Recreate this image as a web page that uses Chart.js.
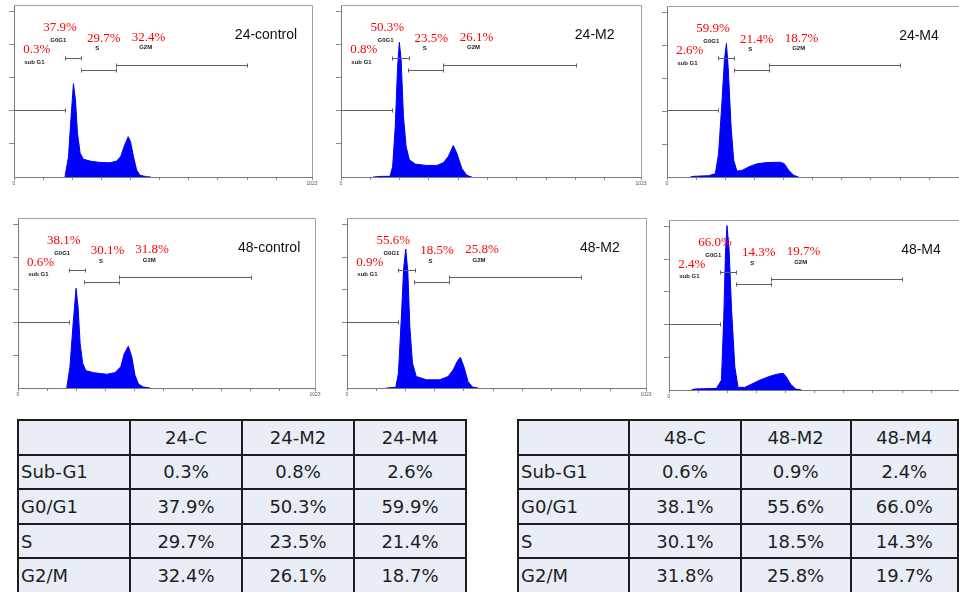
<!DOCTYPE html>
<html>
<head>
<meta charset="utf-8">
<script src="https://cdn.jsdelivr.net/npm/chart.js@4.4.1/dist/chart.umd.min.js"></script>
<style>
  html, body { margin: 0; padding: 0; background: #fff; }
  body { width: 959px; height: 592px; overflow: hidden; position: relative; }
  canvas { position: absolute; }
  table.cc { position: absolute; border-collapse: collapse; table-layout: fixed;
    font-family: "DejaVu Sans", sans-serif; font-size: 18px; color: #1e1e1e; }
  table.cc td { border: 2px solid #1c1c1c; background: #e9edf5; padding: 0; height: 32.6px;
    text-align: center; white-space: nowrap; overflow: hidden; }
  table.cc td.rh { text-align: left; padding-left: 2px; }
</style>
</head>
<body>
<script>
// table data
const phases = ['Sub-G1', 'G0/G1', 'S', 'G2/M'];
const samples24 = ['24-C', '24-M2', '24-M4'];
const samples48 = ['48-C', '48-M2', '48-M4'];
const pct24C = [0.3, 37.9, 29.7, 32.4];
const pct24M2 = [0.8, 50.3, 23.5, 26.1];
const pct24M4 = [2.6, 59.9, 21.4, 18.7];
const pct48C = [0.6, 38.1, 30.1, 31.8];
const pct48M2 = [0.9, 55.6, 18.5, 25.8];
const pct48M4 = [2.4, 66.0, 14.3, 19.7];

const panelTitles = ['24-control', '24-M2', '24-M4', '48-control', '48-M2', '48-M4'];

// histogram outlines: [channel, count]
const hist24C = [[175,0],[187,61],[196,183],[204,282],[211,233],[218,132],[227,72],[238,54],[261,48],[295,44],[330,43],[352,48],[366,61],[378,92],[392,122],[400,107],[410,62],[421,21],[433,5],[455,1],[470,0]];
const hist24M2 = [[110,0],[139,2],[167,2],[176,31],[185,152],[193,334],[199,407],[205,355],[213,183],[222,92],[233,52],[253,39],[292,35],[327,35],[349,43],[366,62],[383,95],[395,72],[412,26],[429,5],[446,0]];
const hist24M4 = [[80,0],[91,2],[143,4],[166,10],[177,71],[189,232],[197,354],[204,406],[210,333],[220,152],[229,51],[240,18],[257,20],[286,33],[309,40],[343,44],[389,45],[403,40],[418,20],[435,5],[452,0]];
const hist48C = [[168,0],[179,65],[189,186],[200,305],[207,246],[214,135],[223,75],[234,53],[260,47],[306,42],[334,47],[354,65],[366,105],[380,128],[392,95],[403,39],[415,12],[432,3],[455,0]];
const hist48M2 = [[135,0],[150,1],[167,2],[176,45],[186,217],[194,368],[201,425],[208,358],[215,187],[224,76],[237,35],[272,25],[317,25],[346,35],[363,55],[377,81],[388,94],[400,65],[414,20],[429,3],[448,0]];
const hist48M4 = [[77,0],[88,3],[163,5],[180,30],[188,222],[194,424],[199,503],[206,434],[215,242],[226,71],[237,8],[260,8],[288,20],[311,30],[340,40],[369,48],[392,51],[403,40],[417,18],[435,3],[455,0]];

// gates (channel range, drawn at a count level)
const gateNames = ['sub G1', 'G0G1', 'S', 'G2M'];
const gateFrom = [0, 175, 229, 349];
const gateTo = [174, 231, 349, 801];
const gateAt = [203, 361, 325, 340];

const xTicks = [0, 100, 200, 300, 400, 500, 600, 700, 800, 900, 1023];
const yTicks = [100, 200, 300, 400, 500];

// label anchors in data units [channel, count]
const pctAnchor = [[78, 385], [158, 452], [308, 419], [462, 422]];
const tagAnchor = [[70, 347], [152, 413], [286, 388], [452, 392]];
const titleAnchor = [865, 428];

// plot areas on the page
const boxes = [
  { l: 14, t: 5, r: 312, b: 177 },
  { l: 341, t: 5, r: 641, b: 177 },
  { l: 667, t: 6, r: 965, b: 177 },
  { l: 18, t: 218, r: 315, b: 388 },
  { l: 347, t: 218, r: 646, b: 388 },
  { l: 669, t: 220, r: 967, b: 390 }
];
const AXW = 10, AXH = 14, PADT = 2, PADR = 9;

const overlay = {
  id: 'overlay',
  afterDatasetsDraw(chart, args, opts) {
    const { ctx, chartArea: a, scales: { x, y } } = chart;
    ctx.save();
    ctx.strokeStyle = '#a0a0a0';
    ctx.lineWidth = 1;
    ctx.beginPath();
    ctx.moveTo(a.left, a.top + 0.5);
    ctx.lineTo(a.right + 0.5, a.top + 0.5);
    ctx.lineTo(a.right + 0.5, a.bottom);
    ctx.stroke();

    ctx.strokeStyle = '#5f5f5f';
    gateFrom.forEach((g, i) => {
      const x0 = Math.round(x.getPixelForValue(g)) + 0.5;
      const x1 = Math.round(x.getPixelForValue(gateTo[i])) + 0.5;
      const yy = Math.round(y.getPixelForValue(gateAt[i])) + 0.5;
      ctx.beginPath();
      ctx.moveTo(x0, yy); ctx.lineTo(x1, yy);
      if (g > 0) { ctx.moveTo(x0, yy - 2); ctx.lineTo(x0, yy + 2); }
      ctx.moveTo(x1, yy - 2); ctx.lineTo(x1, yy + 2);
      ctx.stroke();
    });

    ctx.textAlign = 'center';
    ctx.textBaseline = 'middle';
    ctx.fillStyle = '#ff0000';
    ctx.font = '13px "Liberation Serif"';
    opts.pct.forEach((v, i) => {
      ctx.fillText(v.toFixed(1) + '%', x.getPixelForValue(pctAnchor[i][0]), y.getPixelForValue(pctAnchor[i][1]));
    });
    ctx.fillStyle = '#1a1a1a';
    ctx.font = 'bold 6px "Liberation Sans"';
    gateNames.forEach((n, i) => {
      ctx.fillText(n, x.getPixelForValue(tagAnchor[i][0]), y.getPixelForValue(tagAnchor[i][1]));
    });
    ctx.fillStyle = '#111';
    ctx.font = '14px "Liberation Sans"';
    ctx.fillText(opts.title, x.getPixelForValue(titleAnchor[0]), y.getPixelForValue(titleAnchor[1]));
    ctx.restore();
  }
};

function drawPanel(i, hist, pct) {
  const b = boxes[i];
  const cv = document.createElement('canvas');
  cv.width = b.r - b.l + AXW + PADR;
  cv.height = b.b - b.t + PADT + AXH;
  cv.style.left = (b.l - AXW) + 'px';
  cv.style.top = (b.t - PADT) + 'px';
  document.body.appendChild(cv);

  new Chart(cv, {
    type: 'line',
    data: {
      datasets: [{
        data: hist.map(p => ({ x: p[0], y: p[1] })),
        borderColor: '#0000f0',
        backgroundColor: '#0000ff',
        borderWidth: 1,
        pointRadius: 0,
        tension: 0,
        fill: 'origin'
      }]
    },
    options: {
      responsive: false,
      animation: false,
      devicePixelRatio: 1,
      layout: { padding: { left: 0, right: PADR, top: PADT, bottom: 0 } },
      plugins: {
        legend: { display: false },
        tooltip: { enabled: false },
        overlay: { title: panelTitles[i], pct: pct }
      },
      scales: {
        x: {
          type: 'linear', min: 0, max: 1023,
          afterBuildTicks: s => { s.ticks = xTicks.map(v => ({ value: v })); },
          afterFit: s => { s.height = AXH; },
          grid: { drawOnChartArea: false, tickLength: 3, color: '#8a8a8a' },
          border: { color: '#7a7a7a' },
          ticks: {
            autoSkip: false, maxRotation: 0, padding: 1, color: '#555',
            font: { size: 5, family: 'Liberation Sans' },
            callback: v => (v === 0 || v === 1023) ? String(v) : ''
          }
        },
        y: {
          min: 0, max: 520,
          afterBuildTicks: s => { s.ticks = yTicks.map(v => ({ value: v })); },
          afterFit: s => { s.width = AXW; },
          grid: { drawOnChartArea: false, tickLength: 5, color: '#8a8a8a' },
          border: { color: '#7a7a7a' },
          ticks: { display: false }
        }
      }
    },
    plugins: [overlay]
  });
}

drawPanel(0, hist24C, pct24C);
drawPanel(1, hist24M2, pct24M2);
drawPanel(2, hist24M4, pct24M4);
drawPanel(3, hist48C, pct48C);
drawPanel(4, hist48M2, pct48M2);
drawPanel(5, hist48M4, pct48M4);

function drawTable(left, widths, samples, cols) {
  const t = document.createElement('table');
  t.className = 'cc';
  t.style.left = left + 'px';
  t.style.top = '419px';
  const cg = document.createElement('colgroup');
  widths.forEach(w => { const c = document.createElement('col'); c.style.width = w + 'px'; cg.appendChild(c); });
  t.appendChild(cg);
  const head = t.insertRow();
  head.insertCell().className = 'rh';
  samples.forEach(s => { head.insertCell().textContent = s; });
  phases.forEach((ph, r) => {
    const row = t.insertRow();
    const c0 = row.insertCell();
    c0.className = 'rh';
    c0.textContent = ph;
    cols.forEach(col => { row.insertCell().textContent = col[r].toFixed(1) + '%'; });
  });
  document.body.appendChild(t);
}

drawTable(17, [112, 112, 112, 112], samples24, [pct24C, pct24M2, pct24M4]);
drawTable(517, [112, 112, 111, 108], samples48, [pct48C, pct48M2, pct48M4]);
</script>
</body>
</html>
